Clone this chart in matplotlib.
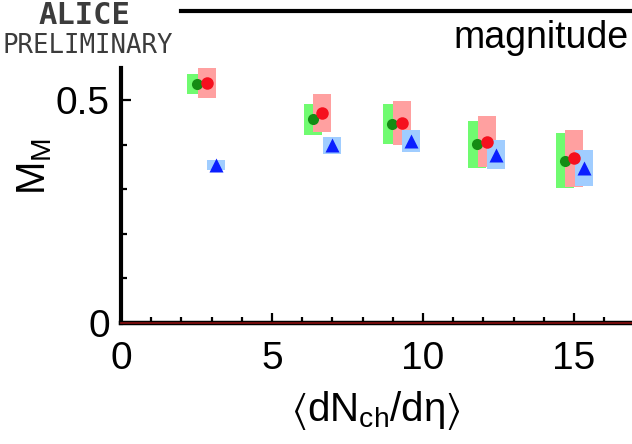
import matplotlib
matplotlib.use('Agg')
import matplotlib.pyplot as plt
from matplotlib.lines import Line2D
import numpy as np

plt.rcParams['font.family'] = ['Liberation Sans', 'DejaVu Sans']
plt.rcParams['mathtext.fontset'] = 'custom'
plt.rcParams['mathtext.rm'] = 'Liberation Sans'
plt.rcParams['mathtext.it'] = 'Liberation Sans'
plt.rcParams['mathtext.default'] = 'regular'

# data
green_x = [2.50, 6.35, 8.98, 11.78, 14.70]
green_y = [0.536, 0.457, 0.446, 0.401, 0.364]
green_sys = [0.022, 0.035, 0.045, 0.052, 0.062]

red_x = [2.84, 6.65, 9.29, 12.11, 15.01]
red_y = [0.539, 0.471, 0.449, 0.407, 0.370]
red_sys = [0.034, 0.043, 0.049, 0.057, 0.064]

blue_x = [3.14, 6.98, 9.59, 12.41, 15.33]
blue_y = [0.354, 0.399, 0.408, 0.378, 0.348]
blue_sys = [0.011, 0.019, 0.025, 0.033, 0.040]

fig = plt.figure(figsize=(6.32, 4.44), dpi=100)
ax = fig.add_axes([0.1915, 0.2725, 0.8085, 0.574])

box_w = 0.6
for xs, ys, es, col in [(green_x, green_y, green_sys, '#70fb70'),
                        (red_x, red_y, red_sys, '#ffa0a0'),
                        (blue_x, blue_y, blue_sys, '#a0cdff')]:
    xs = np.array(xs); ys = np.array(ys); es = np.array(es)
    ax.bar(xs, 2 * es, bottom=ys - es, width=box_w, color=col, linewidth=0, zorder=2)

ax.plot(green_x, green_y, 'o', color='#148c14', ms=8, mec='none', zorder=4)
ax.plot(red_x, red_y, 'o', color='#f5101e', ms=9, mec='none', zorder=5)
ax.plot(blue_x, blue_y, '^', color='#0a1eff', ms=9.5, mec='none', zorder=5)

ax.axhline(0, color='#8b1010', lw=1.2, zorder=6, clip_on=False)

ax.set_xlim(0, 16.92)
ax.set_ylim(0, 0.572)
ax.set_xticks([0, 5, 10, 15])
ax.set_xticks(np.arange(0, 17, 1), minor=True)
ax.set_yticks([0, 0.5])
ax.set_yticklabels(['0', '0.5'])
ax.set_yticks([0.1, 0.2, 0.3, 0.4], minor=True)

ax.spines['top'].set_visible(False)
ax.spines['right'].set_visible(False)
ax.spines['left'].set_linewidth(3)
ax.spines['bottom'].set_linewidth(3.2)

ax.tick_params(which='major', direction='in', length=7, width=1.6, labelsize=28, color='black')
ax.tick_params(which='minor', direction='in', length=4, width=1.6, color='black')
ax.tick_params(axis='x', which='major', pad=13)
ax.tick_params(axis='y', which='major', pad=8)

fig.text(35 / 632, 1 - 166 / 444, r'M$_{\rm M}$', rotation=90, fontsize=29,
         ha='center', va='center')
fig.text(376 / 632, 1 - 410 / 444, r'$\langle$dN$_{\rm ch}$/d$\eta\rangle$', fontsize=29,
         ha='center', va='center')

fig.text(541 / 632, 1 - 38 / 444, 'magnitude', fontsize=27, ha='center', va='center')
fig.add_artist(Line2D([181 / 632, 1.0], [1 - 11 / 444, 1 - 11 / 444], color='black', lw=3))

fig.text(84 / 632, 1 - 1 / 444, 'ALICE', fontsize=22, family='DejaVu Sans Mono',
         fontweight='bold', color='#3c3c3c', ha='center', va='top')
fig.text(88 / 632, 1 - 46 / 444, 'PRELIMINARY', fontsize=18.5, family='DejaVu Sans Mono',
         color='#3c3c3c', ha='center', va='center')

fig.savefig('out.png', dpi=100)
